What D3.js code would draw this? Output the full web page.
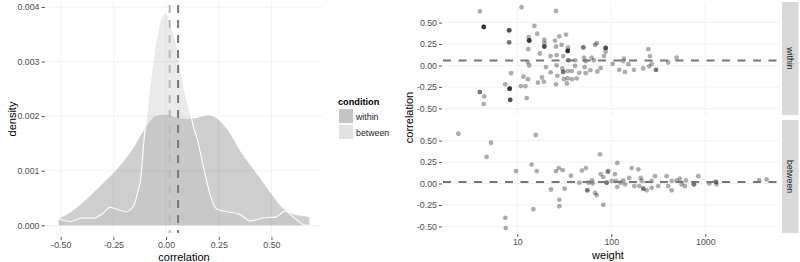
<!DOCTYPE html>
<html>
<head>
<meta charset="utf-8">
<script src="https://cdn.jsdelivr.net/npm/d3@7"></script>
<style>
  html, body { margin: 0; padding: 0; background: #fff; }
  svg { display: block; font-family: "Liberation Sans", Arial, sans-serif; }
</style>
</head>
<body>
<svg id="chart" width="800" height="262"></svg>
<script>
// ---- data ----
const conditions = ["within", "between"];
const meanCorr = [0.057, 0.017];

// density curves (correlation, density)
const withinDensX = [-0.51, -0.45, -0.40, -0.35, -0.30, -0.25, -0.20, -0.15, -0.10, -0.05, 0.00, 0.05, 0.10, 0.15, 0.20, 0.25, 0.30, 0.35, 0.40, 0.45, 0.50, 0.55, 0.60, 0.65, 0.68];
const withinDensY = [0.00012, 0.00025, 0.00040, 0.00058, 0.00077, 0.00096, 0.00118, 0.00145, 0.00178, 0.00200, 0.00203, 0.00197, 0.00195, 0.00197, 0.00201, 0.00193, 0.00170, 0.00137, 0.00110, 0.00084, 0.00057, 0.00033, 0.00021, 0.00017, 0.00015];
const betweenDensX = [-0.51, -0.455, -0.40, -0.345, -0.30, -0.265, -0.225, -0.19, -0.155, -0.135, -0.12, -0.105, -0.09, -0.066, -0.042, -0.02, 0.00, 0.02, 0.044, 0.067, 0.09, 0.115, 0.13, 0.15, 0.17, 0.19, 0.21, 0.24, 0.29, 0.35, 0.40, 0.46, 0.52, 0.565, 0.61, 0.665, 0.68];
const betweenDensY = [0.00012, 0.00007, 0.000135, 0.00013, 0.00022, 0.00033, 0.00028, 0.00025, 0.00035, 0.0006, 0.00087, 0.00155, 0.0021, 0.0029, 0.0035, 0.00382, 0.00389, 0.0037, 0.0034, 0.0029, 0.00242, 0.00205, 0.0018, 0.00155, 0.0012, 0.00085, 0.00055, 0.0003, 0.00025, 0.0002, 0.00008, 0.000135, 0.00015, 0.00026, 0.00013, 0.0, 0.0];

// scatter: within panel (weight, correlation); repeated rows are overlapping points
const withinWeight = [4.0, 11.1, 25.8, 4.4, 4.4, 4.4, 4.4, 8.2, 8.2, 8.2, 8.2, 8.2, 15.2, 16.3, 13.2, 13.4, 13.4, 13.4, 13.4, 13.1, 19.4, 19.4, 19.4, 19.4, 19.4, 25.2, 28, 33, 29.6, 25.8, 34.6, 34.4, 34.4, 34.4, 34.4, 17.4, 22.6, 26.2, 30.8, 34.9, 34.9, 41.4, 50.4, 50.4, 51.3, 67.1, 70, 87.1, 87.1, 87.1, 87.1, 83.6, 61.8, 65.4, 53.5, 12.9, 13.4, 20.2, 26.2, 41.1, 52.1, 8.6, 11.6, 13.0, 18.3, 16.6, 19.2, 22.6, 26.7, 30.1, 30.8, 30.8, 34.4, 31.4, 34.4, 37.9, 38.2, 42.9, 45.7, 53.5, 59.8, 71, 77.1, 25.8, 33.8, 7.45, 10.9, 12.2, 8.3, 8.3, 8.3, 8.3, 4.0, 4.0, 4.45, 4.4, 8.4, 8.4, 8.4, 12.6, 103.5, 136.5, 134, 152, 121.6, 140, 174, 248, 258, 269, 219, 253, 299, 299, 403, 496];
const withinCorr = [0.63, 0.68, 0.635, 0.45, 0.45, 0.45, 0.45, 0.41, 0.41, 0.41, 0.27, 0.27, 0.46, 0.37, 0.33, 0.29, 0.29, 0.29, 0.29, 0.19, 0.30, 0.26, 0.22, 0.22, 0.22, 0.29, 0.34, 0.36, 0.24, 0.22, 0.21, 0.17, 0.17, 0.17, 0.17, 0.14, 0.11, 0.12, 0.11, 0.06, 0.06, 0.06, 0.21, 0.21, 0.09, 0.24, 0.26, 0.205, 0.205, 0.205, 0.16, 0.11, 0.09, 0.06, 0.05, 0.04, 0.0, -0.02, 0.0, -0.005, -0.02, -0.09, -0.13, -0.16, -0.14, -0.20, -0.19, -0.08, -0.12, -0.035, -0.075, -0.075, -0.065, -0.16, -0.15, -0.065, -0.16, -0.15, -0.085, -0.09, -0.055, -0.07, -0.03, -0.22, -0.21, -0.22, -0.24, -0.24, -0.27, -0.27, -0.27, -0.27, -0.31, -0.31, -0.36, -0.45, -0.40, -0.40, -0.40, -0.38, 0.02, 0.08, 0.05, 0.015, -0.05, -0.075, -0.05, 0.19, 0.11, 0.02, -0.035, -0.01, -0.05, -0.05, 0.035, 0.09];

// scatter: between panel
const betweenWeight = [2.36, 5.25, 4.72, 15.7, 9.7, 14.2, 16.1, 14.8, 7.45, 7.53, 22.8, 25.8, 27.6, 30.4, 28, 28, 31.9, 37.2, 45.7, 48.8, 53.8, 55.6, 55.6, 57.5, 62.4, 63.4, 67.1, 70, 75.9, 77.1, 82.2, 82.2, 91.6, 89.3, 89.3, 92.9, 109.4, 115.8, 100.9, 112.2, 115.8, 125.9, 134.3, 140, 164.8, 193.8, 155.2, 175.8, 198.6, 205.6, 219, 219, 238, 210.6, 291.6, 269, 316, 269, 388, 403, 439, 439, 496, 537, 561, 608, 623, 758, 758, 843, 1104, 1300, 1300, 1321, 3750, 4500];
const betweenCorr = [0.58, 0.475, 0.31, 0.565, 0.145, 0.22, 0.145, -0.30, -0.40, -0.52, -0.07, 0.145, 0.18, 0.155, -0.19, -0.265, -0.06, 0.09, 0.01, 0.15, 0.18, -0.08, -0.08, 0.01, 0.035, 0.0, -0.11, -0.135, 0.34, 0.11, 0.075, -0.25, 0.135, 0.01, 0.01, 0.145, 0.11, 0.24, 0.03, 0.03, -0.04, 0.01, 0.035, -0.01, 0.18, 0.165, 0.065, -0.03, -0.03, 0.065, -0.06, -0.06, -0.08, 0.03, 0.085, -0.05, -0.03, 0.03, 0.085, -0.03, -0.08, 0.03, 0.035, 0.055, -0.01, -0.03, 0.035, -0.01, -0.01, 0.085, 0.0, 0.02, 0.02, -0.01, 0.04, 0.047];

const densTicks = [0, 0.001, 0.002, 0.003, 0.004];
const corrTicks = [-0.5, -0.25, 0, 0.25, 0.5];
const weightTicks = [10, 100, 1000];

// ---- drawing ----
const svg = d3.select("#chart");
svg.append("rect").attr("width", 800).attr("height", 262).attr("fill", "#fff");

const fills = { within: { c: "#333", o: 0.24 }, between: { c: "#bbb", o: 0.3 } };
const meanColor = { within: "#777", between: "#b8b8b8" };
const gridColor = "#f1f1f1";
const tickColor = "#555";
const labelColor = "#4d4d4d";
const fmt2 = d => d.toFixed(2);

function styleAxis(g) {
  g.select(".domain").remove();
  g.selectAll(".tick line").attr("stroke", tickColor);
  g.selectAll(".tick text").attr("fill", labelColor).style("font-size", "8.8px");
}

// ===== left: density =====
const L = { x0: 46, x1: 322, y0: 2, y1: 236 };
const xD = d3.scaleLinear().domain([-0.57, 0.74]).range([L.x0, L.x1]);
const yD = d3.scaleLinear().domain([-0.000195, 0.00409]).range([L.y1, L.y0]);

const left = svg.append("g");
left.selectAll("line.gx").data(corrTicks).join("line")
  .attr("x1", d => xD(d)).attr("x2", d => xD(d))
  .attr("y1", L.y0).attr("y2", L.y1).attr("stroke", gridColor);
left.selectAll("line.gy").data(densTicks).join("line")
  .attr("x1", L.x0).attr("x2", L.x1)
  .attr("y1", d => yD(d)).attr("y2", d => yD(d)).attr("stroke", gridColor);

const area = d3.area()
  .x(d => xD(d[0])).y0(yD(0)).y1(d => yD(d[1]))
  .curve(d3.curveMonotoneX);
const line = d3.line()
  .x(d => xD(d[0])).y(d => yD(d[1]))
  .curve(d3.curveMonotoneX);

const withinPts = withinDensX.map((x, i) => [x, withinDensY[i]]);
const betweenPts = betweenDensX.map((x, i) => [x, betweenDensY[i]]);

left.append("path").datum(withinPts).attr("d", area)
  .attr("fill", fills.within.c).attr("fill-opacity", fills.within.o);
left.append("path").datum(betweenPts).attr("d", area)
  .attr("fill", fills.between.c).attr("fill-opacity", fills.between.o);
left.append("path").datum(betweenPts).attr("d", line)
  .attr("fill", "none").attr("stroke", "#fff").attr("stroke-width", 1.1);

// mean lines
left.selectAll("line.mean").data(conditions).join("line")
  .attr("x1", (d, i) => xD(meanCorr[i])).attr("x2", (d, i) => xD(meanCorr[i]))
  .attr("y1", L.y0 + 3).attr("y2", L.y1 - 3)
  .attr("stroke", d => meanColor[d]).attr("stroke-width", 2)
  .attr("stroke-dasharray", "8,7");

left.append("g").attr("transform", `translate(${L.x0 - 1},0)`)
  .call(d3.axisLeft(yD).tickValues(densTicks).tickFormat(d3.format(".3f")).tickSize(3.5).tickPadding(2))
  .call(styleAxis);
left.append("g").attr("transform", `translate(0,${L.y1 + 1})`)
  .call(d3.axisBottom(xD).tickValues(corrTicks).tickFormat(fmt2).tickSize(3).tickPadding(2))
  .call(styleAxis);

left.append("text").attr("x", (L.x0 + L.x1) / 2).attr("y", 260.5)
  .attr("text-anchor", "middle").style("font-size", "11px").text("correlation");
left.append("text").attr("transform", `translate(16,${(L.y0 + L.y1) / 2}) rotate(-90)`)
  .attr("text-anchor", "middle").style("font-size", "11px").text("density");

// legend
const leg = svg.append("g").attr("transform", "translate(338,0)");
leg.append("text").attr("x", 0).attr("y", 104.5)
  .style("font-size", "9.2px").style("font-weight", "bold").text("condition");
conditions.forEach((c, i) => {
  const y = 109 + i * 16;
  leg.append("rect").attr("x", 1).attr("y", y).attr("width", 14).attr("height", 14)
    .attr("fill", "#f4f4f4");
  leg.append("rect").attr("x", 1).attr("y", y).attr("width", 14).attr("height", 14)
    .attr("fill", fills[c].c).attr("fill-opacity", fills[c].o);
  leg.append("text").attr("x", 18).attr("y", y + 10.5)
    .style("font-size", "8.8px").attr("fill", "#222").text(c);
});

// ===== right: scatter facets =====
const R = { x0: 443, x1: 780 };
const panels = [
  { name: "within", y0: 2, y1: 115, w: withinWeight, c: withinCorr, ref: meanCorr[0] },
  { name: "between", y0: 120, y1: 233, w: betweenWeight, c: betweenCorr, ref: meanCorr[1] }
];
const xW = d3.scaleLog().domain([1.62, 6240]).range([R.x0, R.x1]);

const right = svg.append("g");
panels.forEach(p => {
  const y = d3.scaleLinear().domain([-0.577, 0.74]).range([p.y1, p.y0]);
  const g = right.append("g");

  g.selectAll("line.gx").data(weightTicks).join("line")
    .attr("x1", d => xW(d)).attr("x2", d => xW(d))
    .attr("y1", p.y0).attr("y2", p.y1).attr("stroke", gridColor);
  g.selectAll("line.gy").data(corrTicks).join("line")
    .attr("x1", R.x0).attr("x2", R.x1)
    .attr("y1", d => y(d)).attr("y2", d => y(d)).attr("stroke", gridColor);

  const pts = p.w.map((w, i) => ({ w, c: p.c[i] }));
  g.selectAll("circle").data(pts).join("circle")
    .attr("cx", d => xW(d.w)).attr("cy", d => y(d.c)).attr("r", 2.4)
    .attr("fill", "#000").attr("fill-opacity", 0.32);

  g.append("line")
    .attr("x1", R.x0).attr("x2", R.x1)
    .attr("y1", y(p.ref)).attr("y2", y(p.ref))
    .attr("stroke", "#777").attr("stroke-width", 2).attr("stroke-dasharray", "8,7.5");

  g.append("g").attr("transform", `translate(${R.x0 - 1},0)`)
    .call(d3.axisLeft(y).tickValues(corrTicks).tickFormat(fmt2).tickSize(3).tickPadding(2))
    .call(styleAxis);

  // strip
  g.append("rect").attr("x", 782).attr("y", p.y0).attr("width", 16.5).attr("height", p.y1 - p.y0)
    .attr("fill", "#d9d9d9");
  g.append("text")
    .attr("transform", `translate(787,${(p.y0 + p.y1) / 2}) rotate(90)`)
    .attr("text-anchor", "middle").style("font-size", "8.8px").attr("fill", "#1a1a1a")
    .text(p.name);
});

right.append("g").attr("transform", `translate(0,${panels[1].y1 + 1})`)
  .call(d3.axisBottom(xW).tickValues(weightTicks).tickFormat(d3.format("d")).tickSize(3).tickPadding(2))
  .call(styleAxis);

right.append("text").attr("x", 608).attr("y", 258.5)
  .attr("text-anchor", "middle").style("font-size", "11px").text("weight");
right.append("text").attr("transform", `translate(413,117.5) rotate(-90)`)
  .attr("text-anchor", "middle").style("font-size", "11px").text("correlation");
</script>
</body>
</html>
